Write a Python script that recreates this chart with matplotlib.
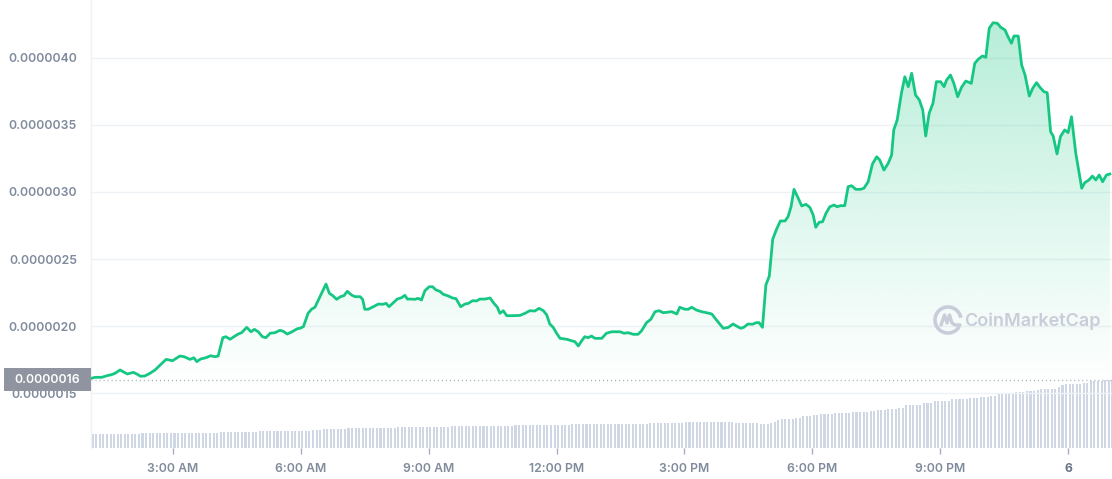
import numpy as np
import matplotlib
matplotlib.use("Agg")
import matplotlib.pyplot as plt
from matplotlib.patches import Rectangle, Polygon
from matplotlib.ticker import FuncFormatter

plt.rcParams['font.family'] = ['Inter', 'DejaVu Sans']

# ---------------- data ----------------
# time in hours since midnight of day 5 (24 = midnight of day 6)
times = [1.09,1.17,1.33,1.45,1.56,1.64,1.76,1.83,1.93,2.07,2.15,2.24,2.34,2.46,2.58,2.70,2.84,2.99,3.16,3.26,
         3.40,3.49,3.56,3.65,3.77,3.88,3.99,4.06,4.17,4.24,4.34,4.43,4.53,4.61,4.73,4.83,4.91,5.00,5.10,5.18,
         5.28,5.39,5.51,5.59,5.68,5.78,5.92,
         5.98,6.06,6.17,6.25,6.33,6.45,6.59,6.67,6.75,6.84,6.93,7.01,7.09,7.19,7.27,7.39,7.45,7.50,7.58,7.70,
         7.82,7.92,8.00,8.07,8.17,8.26,8.36,8.44,8.50,8.60,8.68,8.75,8.83,8.91,9.01,9.09,9.17,9.26,9.34,9.46,
         9.56,9.64,9.75,9.85,9.93,10.03,10.12,10.20,10.32,10.44,10.53,10.61,10.67,10.75,10.83,10.95,11.14,
         11.26,11.37,11.49,11.59,11.69,11.77,11.84,11.92,12.00,12.08,12.24,12.35,12.43,12.51,12.59,12.66,12.74,
         12.82,12.90,13.06,13.17,13.29,13.49,13.58,13.68,13.80,13.91,13.99,14.11,14.21,14.31,14.41,14.50,14.70,
         14.82,14.89,15.01,15.09,15.17,15.28,15.40,15.52,15.64,15.75,15.91,16.03,16.14,16.22,16.32,16.39,16.49,
         16.60,16.68,16.75,16.83,16.91,16.99,
         17.07,17.16,17.25,17.36,17.43,17.50,17.57,17.67,17.75,17.85,17.94,18.02,18.08,18.16,18.24,18.32,18.41,
         18.51,18.58,18.66,18.76,18.84,18.92,19.02,19.13,19.21,19.31,19.41,19.51,19.58,
         19.68,19.78,19.86,19.91,19.99,20.09,20.17,20.25,20.33,20.42,20.51,20.59,20.66,20.74,20.83,20.91,21.01,
         21.09,21.15,21.24,21.32,21.41,21.50,21.60,21.73,21.81,21.89,21.99,22.07,22.15,22.24,22.34,22.42,22.52,
         22.59,22.67,22.73,22.83,22.91,22.99,23.09,23.17,23.26,23.34,23.43,23.51,23.59,23.65,23.74,23.82,23.92,
         24.00,24.08,24.18,24.32,24.39,24.49,24.57,24.65,24.73,24.81,24.90,24.98]

# price in units of 1e-7 USD
price_e7 = [16.10,16.17,16.17,16.29,16.37,16.47,16.72,16.59,16.42,16.54,16.42,16.25,16.27,16.47,16.72,17.09,17.51,
            17.41,17.76,17.71,17.51,17.63,17.34,17.54,17.63,17.78,17.71,17.76,19.13,19.20,19.01,19.20,19.40,19.50,
            19.90,19.57,19.75,19.57,19.20,19.13,19.46,19.50,19.68,19.60,19.40,19.55,19.80,
            19.83,19.95,20.95,21.25,21.40,22.19,23.13,22.44,22.26,21.99,22.19,22.26,22.59,22.31,22.19,22.19,21.99,
            21.25,21.25,21.44,21.64,21.62,21.69,21.44,21.74,22.01,22.11,22.29,22.01,22.01,21.99,22.07,21.94,22.63,
            22.93,22.93,22.69,22.59,22.37,22.24,22.09,22.04,21.44,21.64,21.69,21.89,21.87,22.01,22.01,22.09,21.69,
            21.40,20.95,21.14,20.77,20.77,20.79,
            20.95,21.14,21.12,21.32,21.14,20.82,20.15,19.90,19.46,19.08,19.01,18.90,18.83,18.51,18.90,19.20,19.13,
            19.25,19.08,19.08,19.46,19.57,19.57,19.46,19.50,19.38,19.38,19.63,20.25,20.50,21.07,21.14,20.99,21.07,
            20.90,21.40,21.25,21.25,21.40,21.19,21.07,20.99,20.90,20.45,19.83,19.90,20.15,20.00,19.83,19.90,20.15,
            20.13,20.25,20.25,19.90,23.06,23.73,
            26.47,27.22,27.84,27.84,28.16,28.90,30.20,29.53,28.96,29.08,28.86,28.28,27.37,27.74,27.78,28.41,28.90,
            29.03,28.90,28.98,28.98,30.40,30.47,30.20,30.20,30.28,30.77,32.09,32.63,32.39,
            31.64,32.14,32.76,34.63,35.37,37.37,38.60,37.86,38.86,37.24,36.87,36.12,34.18,35.87,36.62,38.23,38.23,
            37.86,38.36,38.73,38.11,37.11,37.81,38.28,38.11,39.60,39.90,40.15,40.05,42.22,42.63,42.59,42.29,42.09,
            41.59,41.10,41.64,41.64,39.48,38.73,37.16,37.74,38.16,37.81,37.49,37.41,34.50,34.18,32.84,34.13,34.63,
            34.43,35.62,32.89,30.28,30.69,30.90,31.19,30.90,31.27,30.77,31.27,31.34]

open_price_e7 = 16.0
open_label = "0.0000016"

# volume (relative units), 5-minute bars, run-length encoded
vol_levels = [14,15,16,17,18,19,20,21,22,23,24,25,26,25,24,24.5,26,27.5,29,30,
              31,32,33,34,35,36,37,38,39.5,42,44,46,48,49,50,51,54,55,56,57,
              58,60,61.5,63,64,65.5,67]
vol_counts = [14,22,11,15,3,7,14,15,18,16,22,10,14,7,3,1,1,1,4,2,
              3,2,4,5,5,2,3,3,2,5,3,5,5,3,3,2,5,3,3,1,
              5,1,1,5,2,4,3]
vol_start = 1.077      # hour of first bar
vol_step_h = 5 / 60.0  # bar interval

xlim = (1.077, 25.03)
tick_hours = [3, 6, 9, 12, 15, 18, 21, 24]
tick_labels = ["3:00 AM", "6:00 AM", "9:00 AM", "12:00 PM", "3:00 PM", "6:00 PM", "9:00 PM", "6"]
ytick_e7 = [15, 20, 25, 30, 35, 40]

# ---------------- styling ----------------
GREEN = "#16c784"
GREY_TXT = "#808a9d"
GRID = "#eff2f5"
VOL_C = "#cfd6e4"
FS = 8.8

W, H = 1112, 479
fig = plt.figure(figsize=(W / 100, H / 100), dpi=100)
fig.patch.set_facecolor("white")
L, R, T, B = 91, 1112, 0, 448
rect = [L / W, (H - B) / H, (R - L) / W, (B - T) / H]

t = np.array(times)
p = np.array(price_e7) * 1e-7
ylo, yhi = 10.896e-7, 44.328e-7

# volume axes (behind)
axv = fig.add_axes(rect, zorder=0)
vol = np.repeat(vol_levels, vol_counts)
vt = vol_start + (np.arange(len(vol)) + 0.5) * vol_step_h
axv.bar(vt, vol, width=vol_step_h * 0.58, color=VOL_C, linewidth=0)
axv.set_xlim(*xlim)
axv.set_ylim(0, max(vol_levels) / 0.152)
axv.axis("off")

# price axes
ax = fig.add_axes(rect, zorder=1)
ax.patch.set_alpha(0)
ax.set_xlim(*xlim)
ax.set_ylim(ylo, yhi)

# gradient fill under line
verts = [(t[0], ylo)] + list(zip(t, p)) + [(t[-1], ylo)]
poly = Polygon(verts, closed=True, facecolor="none", edgecolor="none")
ax.add_patch(poly)
n = 256
g = np.linspace(1, 0, n)[:, None]
rgba = np.zeros((n, 1, 4))
rgba[..., :3] = matplotlib.colors.to_rgb(GREEN)
rgba[..., 3] = 0.31 * g ** 1.1
im = ax.imshow(rgba, extent=[t[0], t[-1], 15e-7, p.max()], aspect="auto",
               origin="upper", zorder=1, interpolation="bilinear")
im.set_clip_path(poly)
ax.set_xlim(*xlim)
ax.set_ylim(ylo, yhi)

ax.plot(t, p, color=GREEN, lw=2.0, solid_joinstyle="round", zorder=3)
ax.axhline(open_price_e7 * 1e-7, color="#a3a9b6", lw=1.0, ls=(0, (0.7, 2.2)), zorder=2)

# grid / ticks
ax.set_yticks([v * 1e-7 for v in ytick_e7])
ax.yaxis.set_major_formatter(FuncFormatter(lambda v, pos: f"{v:.7f}"))
ax.grid(axis="y", color=GRID, lw=1)
ax.set_axisbelow(True)
ax.tick_params(axis="y", length=0, pad=10, labelsize=FS, labelcolor=GREY_TXT)
ax.set_xticks(tick_hours)
ax.set_xticklabels(tick_labels)
ax.tick_params(axis="x", length=4, width=1, color="#a6aebb", pad=7, labelsize=FS,
               labelcolor=GREY_TXT)
for lab in ax.get_yticklabels() + ax.get_xticklabels():
    lab.set_fontweight("semibold")
ax.get_xticklabels()[-1].set_fontweight("bold")
ax.get_xticklabels()[-1].set_color("#6b7588")

for s in ["top", "right", "bottom"]:
    ax.spines[s].set_visible(False)
ax.spines["left"].set_color(GRID)
ax.spines["left"].set_linewidth(1)

# price tag at open price
fig.canvas.draw()
y_disp = ax.transData.transform((xlim[0], open_price_e7 * 1e-7))[1]
tag_h = 23
fig.patches.append(Rectangle((4 / W, (y_disp - tag_h / 2) / H), (L - 4) / W, tag_h / H,
                             transform=fig.transFigure, facecolor="#8f94a0", edgecolor="none",
                             zorder=5))
fig.text(80 / W, y_disp / H, open_label, color="white", fontsize=FS, fontweight="semibold",
         ha="right", va="center", zorder=6)

# watermark
wm_c = "#c9cdda"
cx, cy = 948, 320
ax_wm = fig.add_axes([0, 0, 1, 1], zorder=2)
ax_wm.set_xlim(0, W)
ax_wm.set_ylim(H, 0)
ax_wm.axis("off")
ax_wm.add_patch(matplotlib.patches.Arc((cx, cy), 26, 26, theta1=-330, theta2=-10,
                                       color=wm_c, lw=2.6))
ax_wm.plot([cx - 7, cx - 3.5, cx - 1, cx + 1.5, cx + 4, cx + 7, cx + 12],
           [cy + 5, cy - 5, cy + 3, cy - 5, cy + 3, cy + 5, cy + 5],
           color=wm_c, lw=2.4, solid_joinstyle="round", solid_capstyle="round")
ax_wm.text(964, cy + 1, "CoinMarketCap", color=wm_c, fontsize=13, fontweight="semibold",
           ha="left", va="center")

fig.savefig("out.png", dpi=100)
